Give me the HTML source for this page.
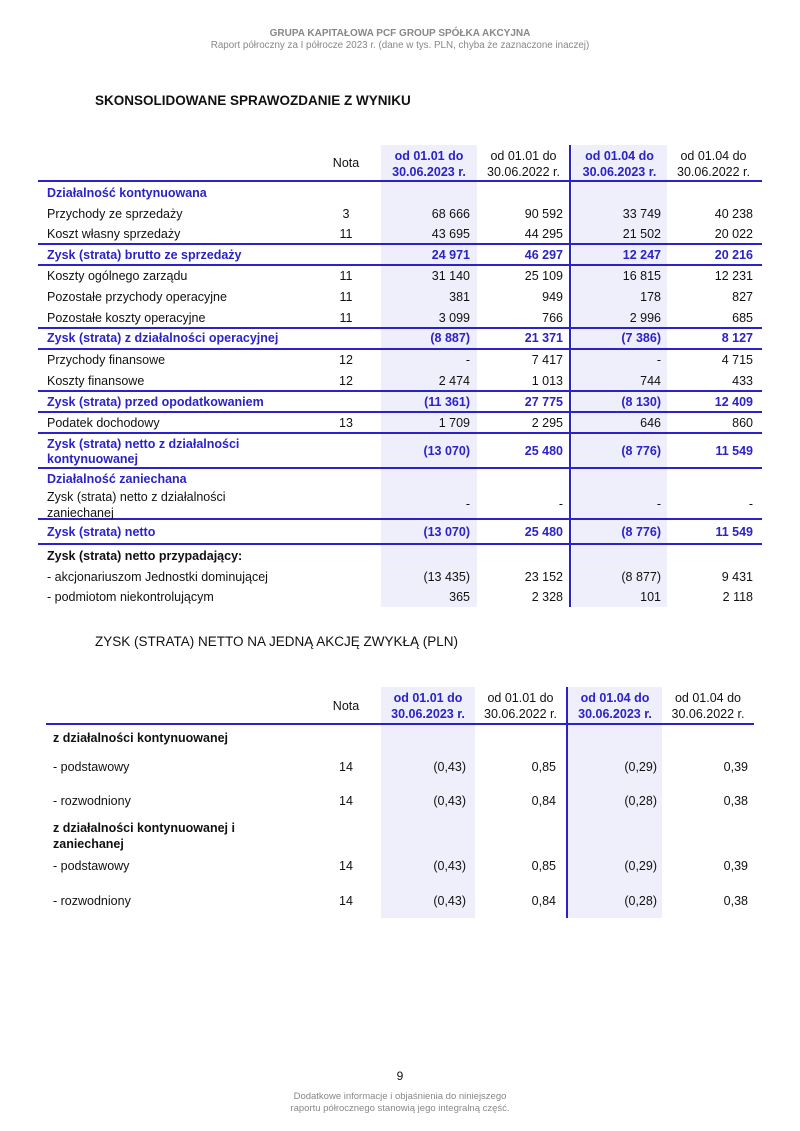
<!DOCTYPE html>
<html><head><meta charset="utf-8"><style>
body{margin:0;width:800px;height:1131px;background:#fff;position:relative;font-family:"Liberation Sans",sans-serif;color:#111;overflow:hidden}
.a{position:absolute}
.sh{position:absolute;background:#efeefb}
.ln{position:absolute;height:2px;background:#2b22c8}
.vl{position:absolute;width:2px;background:#2b22c8}
.r{position:absolute;left:0;width:800px;font-size:12.5px}
.r span{position:absolute;white-space:nowrap}
.l{left:47px}
.n{left:326px;width:40px;text-align:center}
.c1{right:330px}.c2{right:237px}.c3{right:139px}.c4{right:47px}
.b{color:#2b22c8;font-weight:bold}
.k{font-weight:bold}
.t2 .l{left:53px}
.t2 .c1{right:334px}.t2 .c2{right:244px}.t2 .c3{right:143px}.t2 .c4{right:52px}
.h{font-size:12.5px;text-align:center;line-height:16px}
</style></head><body>
<div class="a" style="left:0;width:800px;top:28px;text-align:center;font-size:10px;font-weight:bold;color:#888">GRUPA KAPITAŁOWA PCF GROUP SPÓŁKA AKCYJNA</div>
<div class="a" style="left:0;width:800px;top:40px;text-align:center;font-size:9.8px;color:#888">Raport półroczny za I półrocze 2023 r. (dane w tys. PLN, chyba że zaznaczone inaczej)</div>
<div class="a" style="left:95px;top:93px;font-size:13.5px;font-weight:bold">SKONSOLIDOWANE SPRAWOZDANIE Z WYNIKU</div>

<!-- table 1 -->
<div class="sh" style="left:381px;top:145px;width:96px;height:462px"></div>
<div class="sh" style="left:572px;top:145px;width:95px;height:462px"></div>
<div class="vl" style="left:569px;top:145px;height:462px"></div>
<div class="a h" style="left:326px;top:155px;width:40px">Nota</div>
<div class="a h b" style="left:381px;top:148px;width:96px">od 01.01 do<br>30.06.2023 r.</div>
<div class="a h" style="left:477px;top:148px;width:93px">od 01.01 do<br>30.06.2022 r.</div>
<div class="a h b" style="left:572px;top:148px;width:95px">od 01.04 do<br>30.06.2023 r.</div>
<div class="a h" style="left:667px;top:148px;width:93px">od 01.04 do<br>30.06.2022 r.</div>
<div class="ln" style="left:38px;width:724px;top:180px"></div>
<div class="ln" style="left:38px;width:724px;top:243px"></div>
<div class="ln" style="left:38px;width:724px;top:264px"></div>
<div class="ln" style="left:38px;width:724px;top:327px"></div>
<div class="ln" style="left:38px;width:724px;top:348px"></div>
<div class="ln" style="left:38px;width:724px;top:390px"></div>
<div class="ln" style="left:38px;width:724px;top:411px"></div>
<div class="ln" style="left:38px;width:724px;top:432px"></div>
<div class="ln" style="left:38px;width:724px;top:467px"></div>
<div class="ln" style="left:38px;width:724px;top:518px"></div>
<div class="ln" style="left:38px;width:724px;top:543px"></div>

<div class="r" style="top:186px"><span class="l b">Działalność kontynuowana</span></div>
<div class="r" style="top:207px"><span class="l">Przychody ze sprzedaży</span><span class="n">3</span><span class="c1">68 666</span><span class="c2">90 592</span><span class="c3">33 749</span><span class="c4">40 238</span></div>
<div class="r" style="top:227px"><span class="l">Koszt własny sprzedaży</span><span class="n">11</span><span class="c1">43 695</span><span class="c2">44 295</span><span class="c3">21 502</span><span class="c4">20 022</span></div>
<div class="r b" style="top:248px"><span class="l">Zysk (strata) brutto ze sprzedaży</span><span class="c1">24 971</span><span class="c2">46 297</span><span class="c3">12 247</span><span class="c4">20 216</span></div>
<div class="r" style="top:269px"><span class="l">Koszty ogólnego zarządu</span><span class="n">11</span><span class="c1">31 140</span><span class="c2">25 109</span><span class="c3">16 815</span><span class="c4">12 231</span></div>
<div class="r" style="top:290px"><span class="l">Pozostałe przychody operacyjne</span><span class="n">11</span><span class="c1">381</span><span class="c2">949</span><span class="c3">178</span><span class="c4">827</span></div>
<div class="r" style="top:311px"><span class="l">Pozostałe koszty operacyjne</span><span class="n">11</span><span class="c1">3 099</span><span class="c2">766</span><span class="c3">2 996</span><span class="c4">685</span></div>
<div class="r b" style="top:331px"><span class="l">Zysk (strata) z działalności operacyjnej</span><span class="c1">(8 887)</span><span class="c2">21 371</span><span class="c3">(7 386)</span><span class="c4">8 127</span></div>
<div class="r" style="top:353px"><span class="l">Przychody finansowe</span><span class="n">12</span><span class="c1">-</span><span class="c2">7 417</span><span class="c3">-</span><span class="c4">4 715</span></div>
<div class="r" style="top:374px"><span class="l">Koszty finansowe</span><span class="n">12</span><span class="c1">2 474</span><span class="c2">1 013</span><span class="c3">744</span><span class="c4">433</span></div>
<div class="r b" style="top:395px"><span class="l">Zysk (strata) przed opodatkowaniem</span><span class="c1">(11 361)</span><span class="c2">27 775</span><span class="c3">(8 130)</span><span class="c4">12 409</span></div>
<div class="r" style="top:416px"><span class="l">Podatek dochodowy</span><span class="n">13</span><span class="c1">1 709</span><span class="c2">2 295</span><span class="c3">646</span><span class="c4">860</span></div>
<div class="r b" style="top:437px"><span class="l" style="line-height:15px">Zysk (strata) netto z działalności<br>kontynuowanej</span></div>
<div class="r b" style="top:444px"><span class="c1">(13 070)</span><span class="c2">25 480</span><span class="c3">(8 776)</span><span class="c4">11 549</span></div>
<div class="r b" style="top:472px"><span class="l">Działalność zaniechana</span></div>
<div class="r" style="top:490px"><span class="l" style="line-height:15.5px">Zysk (strata) netto z działalności<br>zaniechanej</span></div>
<div class="r" style="top:497px"><span class="c1">-</span><span class="c2">-</span><span class="c3">-</span><span class="c4">-</span></div>
<div class="r b" style="top:525px"><span class="l">Zysk (strata) netto</span><span class="c1">(13 070)</span><span class="c2">25 480</span><span class="c3">(8 776)</span><span class="c4">11 549</span></div>
<div class="r k" style="top:549px"><span class="l">Zysk (strata) netto przypadający:</span></div>
<div class="r" style="top:570px"><span class="l">- akcjonariuszom Jednostki dominującej</span><span class="c1">(13 435)</span><span class="c2">23 152</span><span class="c3">(8 877)</span><span class="c4">9 431</span></div>
<div class="r" style="top:590px"><span class="l">- podmiotom niekontrolującym</span><span class="c1">365</span><span class="c2">2 328</span><span class="c3">101</span><span class="c4">2 118</span></div>

<div class="a" style="left:95px;top:634px;font-size:13.5px">ZYSK (STRATA) NETTO NA JEDNĄ AKCJĘ ZWYKŁĄ (PLN)</div>

<!-- table 2 -->
<div class="sh" style="left:381px;top:687px;width:94px;height:231px"></div>
<div class="sh" style="left:568px;top:687px;width:94px;height:231px"></div>
<div class="vl" style="left:566px;top:687px;height:231px"></div>
<div class="a h" style="left:326px;top:698px;width:40px">Nota</div>
<div class="a h b" style="left:381px;top:690px;width:94px">od 01.01 do<br>30.06.2023 r.</div>
<div class="a h" style="left:475px;top:690px;width:91px">od 01.01 do<br>30.06.2022 r.</div>
<div class="a h b" style="left:568px;top:690px;width:94px">od 01.04 do<br>30.06.2023 r.</div>
<div class="a h" style="left:662px;top:690px;width:92px">od 01.04 do<br>30.06.2022 r.</div>
<div class="ln" style="left:46px;width:708px;top:723px"></div>
<div class="t2">
<div class="r k" style="top:731px"><span class="l">z działalności kontynuowanej</span></div>
<div class="r" style="top:760px"><span class="l">- podstawowy</span><span class="n">14</span><span class="c1">(0,43)</span><span class="c2">0,85</span><span class="c3">(0,29)</span><span class="c4">0,39</span></div>
<div class="r" style="top:794px"><span class="l">- rozwodniony</span><span class="n">14</span><span class="c1">(0,43)</span><span class="c2">0,84</span><span class="c3">(0,28)</span><span class="c4">0,38</span></div>
<div class="r k" style="top:820px"><span class="l" style="line-height:16px">z działalności kontynuowanej i<br>zaniechanej</span></div>
<div class="r" style="top:859px"><span class="l">- podstawowy</span><span class="n">14</span><span class="c1">(0,43)</span><span class="c2">0,85</span><span class="c3">(0,29)</span><span class="c4">0,39</span></div>
<div class="r" style="top:894px"><span class="l">- rozwodniony</span><span class="n">14</span><span class="c1">(0,43)</span><span class="c2">0,84</span><span class="c3">(0,28)</span><span class="c4">0,38</span></div>
</div>

<div class="a" style="left:0;width:800px;top:1069px;text-align:center;font-size:12px">9</div>
<div class="a" style="left:0;width:800px;top:1091px;text-align:center;font-size:9.5px;color:#888;line-height:12px">Dodatkowe informacje i objaśnienia do niniejszego<br>raportu półrocznego stanowią jego integralną część.</div>
</body></html>
